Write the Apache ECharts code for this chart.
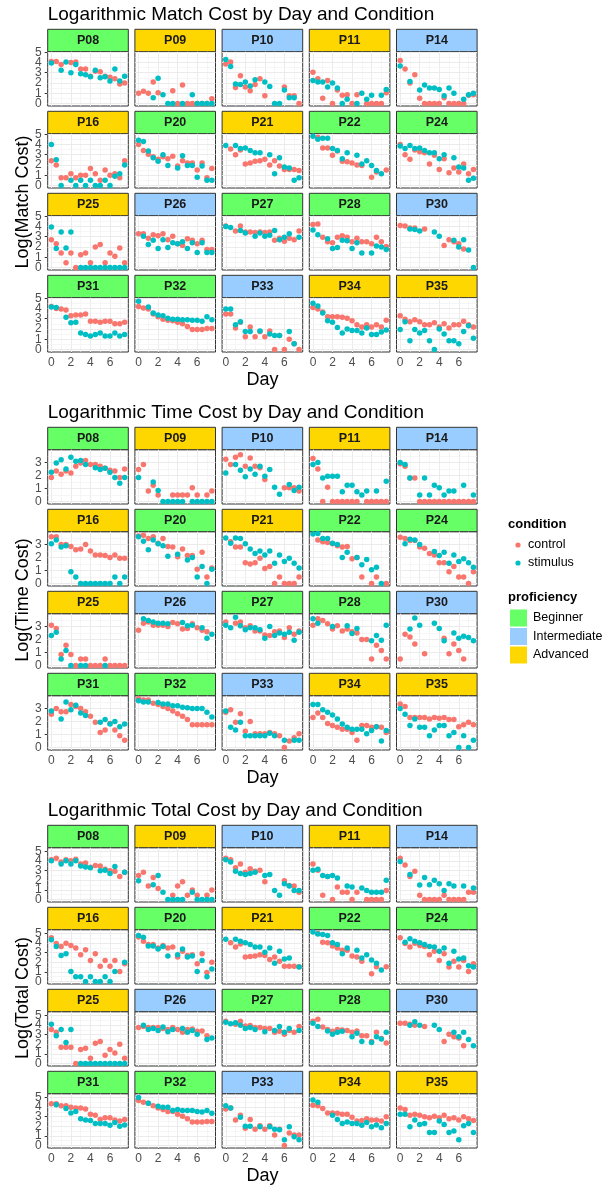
<!DOCTYPE html>
<html><head><meta charset="utf-8">
<script src="https://cdn.jsdelivr.net/npm/echarts@6/dist/echarts.min.js"></script>
<style>html,body{margin:0;padding:0;background:#fff}#c{width:608px;height:1190px}</style>
</head><body><div id="c"></div>
<script>
// ---------- DATA ----------
const days = [0,0.5,1,1.5,2,2.5,3,3.5,4,4.5,5,5.5,6,6.5,7,7.5];
const xTicks = [0,2,4,6];
const matchTicks = [0,1,2,3,4,5];
const timeTicks = [0,1,2,3];
const totalTicks = [0,1,2,3,4,5];
const participants = ['P08','P09','P10','P11','P14','P16','P20','P21','P22','P24','P25','P26','P27','P28','P30','P31','P32','P33','P34','P35'];
const proficiency = ['Beginner','Advanced','Intermediate','Advanced','Intermediate','Advanced','Beginner','Advanced','Beginner','Beginner','Advanced','Intermediate','Beginner','Beginner','Intermediate','Beginner','Beginner','Intermediate','Advanced','Advanced'];
const conditions = ['control','stimulus'];
const proficiencyLevels = ['Beginner','Intermediate','Advanced'];

const matchControl = [
[4.1,4.1,3.8,null,4.0,4.05,3.35,3.35,2.65,3.15,3.1,2.65,2.55,2.4,1.9,2.0],
[1.0,1.2,1.0,2.1,1.05,null,null,1.25,0,1.8,0,0,0,0,0,0.45],
[3.85,4.05,1.55,2.7,1.6,1.25,1.85,2.4,0.75,null,null,null,1.6,0.75,0.75,0],
[3.05,2.4,0.5,2.25,0,1.3,0.8,0.85,0,0.85,null,0,0,0,0,1.05],
[4.2,3.35,2.0,2.8,0.5,0,0,0,0,0.55,0,0,0,0,0.8,0.85],
[2.4,2.0,0.75,0.75,1.15,0.75,1.0,1.0,1.65,1.15,0.5,1.5,1.0,1.15,0.75,2.4],
[4.0,3.4,3.05,2.8,2.55,2.8,2.6,2.85,1.9,2.4,2.2,2.2,1.5,2.2,0.75,1.65],
[null,3.55,3.0,3.45,2.1,2.2,2.35,2.4,2.55,2.0,2.4,1.9,1.55,1.55,1.55,1.45],
[null,4.7,3.65,3.65,2.95,3.35,2.35,2.3,2.2,2.0,1.95,null,0.8,1.3,null,1.5],
[4.0,3.0,2.55,3.45,3.3,3.2,2.1,2.95,1.55,2.6,1.25,1.7,1.3,2.1,1.15,1.55],
[2.7,2.3,1.4,0.45,1.4,0,1.25,1.4,0.45,2.0,2.25,0.45,1.4,1.1,1.9,0.45],
[3.3,3.3,2.85,3.2,3.1,3.3,2.7,3.05,2.3,2.15,2.8,2.65,2.3,2.65,1.75,1.75],
[4.05,null,3.55,4.05,3.45,3.45,3.4,3.45,3.4,3.45,2.65,2.85,2.55,2.85,2.7,3.55],
[4.2,4.25,2.95,2.5,2.4,2.95,3.1,2.95,2.5,2.85,2.5,2.5,2.3,2.95,2.5,2.05],
[4.1,4.05,3.85,3.85,null,3.75,null,null,null,2.15,2.7,2.5,2.3,1.8,null,null],
[4.2,4.0,3.95,3.85,3.3,3.35,3.35,3.45,2.75,2.75,2.65,2.75,2.75,2.5,2.5,2.65],
[4.2,4.05,3.95,3.45,3.2,2.95,2.85,2.8,2.65,2.5,2.25,1.95,1.95,1.95,2.05,2.05],
[3.45,3.45,2.1,2.65,1.25,2.2,1.25,1.75,1.25,1.8,0,1.35,0,1.0,0.55,0],
[4.1,3.95,3.65,3.2,3.2,3.2,3.15,3.05,2.8,2.4,2.2,2.4,2.2,2.4,2.2,2.85],
[3.3,2.95,2.7,2.9,2.7,2.4,2.4,2.6,2.2,2.5,2.1,2.4,2.4,2.75,2.4,2.2]
];
const matchStimulus = [
[3.95,null,3.25,4.05,3.0,3.8,2.9,2.8,2.6,3.25,2.5,2.6,2.2,3.35,2.2,2.65],
[null,null,null,0.55,2.45,0.85,0,0,null,0,null,0.85,0,0,0,0],
[4.3,3.6,1.9,1.85,2.1,1.7,2.3,null,2.1,1.65,0,0,1.3,0.55,0.55,null],
[2.25,2.1,2.1,1.6,2.0,1.5,0,0.4,null,0,1.0,0.4,0.8,null,0.8,1.35],
[3.65,null,2.15,null,1.3,1.8,1.5,1.5,1.35,0.75,1.5,1.0,null,0.4,0.85,1.0],
[4.0,2.5,0,null,0.5,0,0.5,0,0.5,0,0,0.5,0,0.9,1.15,2.0],
[4.4,4.3,3.35,2.7,2.35,3.0,1.95,null,1.7,2.9,1.95,1.95,0.8,1.9,0.5,0.5],
[3.9,null,3.9,3.6,3.65,3.4,3.2,3.2,null,3.0,1.15,2.7,1.8,1.7,0.5,0.75],
[4.8,4.5,4.6,4.6,3.6,3.4,2.6,3.2,null,2.95,2.1,2.4,1.95,1.45,1.15,null],
[3.85,3.6,3.9,3.6,3.65,3.4,3.2,3.2,2.6,3.0,null,2.7,1.8,1.7,0.5,0.7],
[3.95,1.85,3.45,1.9,3.45,null,0,0,0,0,0,0,0,0,0,0],
[null,3.05,2.25,2.65,1.85,2.7,1.95,2.4,2.3,2.5,1.85,2.4,1.45,2.4,1.45,1.45],
[4.0,3.9,null,3.6,3.35,null,3.05,3.35,3.05,3.15,3.6,2.7,2.95,3.3,null,2.95],
[3.65,3.2,null,2.8,1.85,1.95,2.65,2.6,1.85,2.4,1.4,null,1.4,2.1,2.0,1.75],
[null,null,3.75,3.7,3.55,null,null,3.45,3.05,null,null,2.65,2.0,2.7,1.7,0],
[4.15,4.1,null,3.15,2.6,2.65,1.6,1.45,1.3,1.45,1.6,1.3,1.3,1.6,1.3,1.45],
[4.7,null,4.15,3.55,3.35,3.3,3.05,2.95,2.95,2.9,2.9,2.85,2.85,2.75,3.2,2.9],
[3.95,3.95,2.4,2.7,1.75,1.75,null,1.8,null,1.5,1.35,1.35,null,1.75,0.55,null],
[4.5,4.25,3.55,2.8,2.65,2.15,1.6,2.0,1.85,1.85,1.6,2.1,1.45,1.45,1.7,1.9],
[1.95,2.7,0.85,1.95,1.6,1.85,0.85,0,2.0,1.5,0.85,0.85,0.55,1.75,2.3,1.1]
];
const timeControl = [
[1.85,2.35,2.1,2.35,2.2,2.7,2.95,3.15,2.85,2.85,2.7,2.55,2.4,2.35,1.85,2.5],
[2.45,2.85,0.8,1.25,0.5,null,null,0.5,0.5,0.5,0.5,1.05,0.5,null,0.5,0.8],
[3.25,2.85,3.4,3.6,2.7,3.35,2.7,2.6,1.7,null,null,null,1.05,1.05,1.05,0.8],
[3.3,2.5,0,1.1,0,0,0,0,0,0,null,0,0,0,0,0],
[2.9,2.7,1.8,1.8,0,0,0,0,0,0,0,0,0,0,0,0],
[3.6,3.6,3.0,3.0,2.85,2.6,2.65,3.0,2.5,2.2,2.2,2.15,2.0,2.2,1.95,1.95],
[3.65,3.7,3.45,3.6,3.1,3.45,2.85,2.8,2.05,2.65,2.15,2.15,1.1,2.4,0.5,1.2],
[null,3.2,2.8,2.8,1.6,1.5,1.6,1.95,1.15,1.3,0,0.5,0,0,0,0.5],
[null,3.35,3.2,3.15,3.05,2.9,2.8,2.85,1.9,2.0,0.5,null,0,0.5,null,0],
[3.55,3.45,3.3,3.3,2.8,2.7,2.3,2.2,1.6,1.6,0.9,1.3,0.5,0.5,0,0.9],
[3.1,2.85,0.85,1.55,0.85,0,0.5,0.5,0,0,0,0.5,0,0,0,0],
[2.7,3.25,3.35,3.1,3.1,3.1,3.0,3.3,3.2,2.8,2.85,3.2,2.9,2.7,2.6,null],
[3.35,null,3.25,3.35,2.9,3.05,2.65,2.65,2.35,2.3,2.6,2.65,2.15,2.9,2.4,2.65],
[3.1,3.6,3.45,3.2,2.8,3.05,2.65,2.8,2.6,2.5,2.0,2.0,0.5,1.55,1.15,0.5],
[0.5,2.4,2.2,1.65,null,0.9,null,null,null,2.1,0.9,1.65,1.15,0.5,null,null],
[2.55,3.0,2.75,2.75,3.3,3.15,3.0,2.75,2.4,1.95,1.15,1.35,1.85,1.35,0.9,0.55],
[3.75,3.65,3.65,3.4,3.3,3.15,3.0,2.8,2.6,2.4,2.15,1.75,1.75,1.75,1.75,1.75],
[2.7,2.9,1.95,2.6,1.25,2.0,1.05,1.05,1.05,1.15,1.05,0.9,0,0.5,0.75,1.05],
[2.3,2.65,2.3,1.85,1.7,1.55,1.4,1.4,1.15,0.55,1.7,1.7,1.55,1.6,1.55,1.15],
[3.35,3.15,2.3,2.3,2.3,2.3,2.2,2.3,2.25,2.3,2.15,2.15,1.6,1.75,1.95,1.75]
];
const timeStimulus = [
[2.25,2.95,3.2,2.5,3.4,3.1,3.15,2.85,null,2.6,2.45,2.55,2.25,1.85,1.4,1.85],
[1.85,null,null,1.5,0.85,0,0,0,0,0,null,0,0,0,0,0],
[2.2,null,2.85,2.4,1.9,2.5,2.1,2.7,1.95,2.45,1.1,0.55,null,1.3,0.85,1.1],
[2.85,3.0,1.8,1.95,1.95,1.95,0.75,1.25,1.25,0.75,0.5,0.8,null,0.8,null,1.55],
[3.0,2.85,1.8,null,0.5,1.8,0.5,1.25,1.05,0.5,0.8,0.8,null,1.25,null,0.5],
[3.05,3.35,2.8,2.9,0.9,0.5,0,0,0,0,0,0,0,0.5,0,0.5],
[3.6,3.25,2.6,3.35,3.05,2.9,2.1,null,2.25,null,1.8,2.0,0.5,1.3,0,1.1],
[3.5,3.1,3.5,3.45,3.05,2.65,2.3,2.5,2.2,2.5,1.55,2.2,1.7,1.95,1.55,1.2],
[3.8,3.85,3.45,3.45,3.1,3.0,2.0,2.4,null,2.0,1.45,1.85,1.05,1.25,0,null],
[null,3.05,3.4,3.35,3.0,null,null,2.45,2.15,2.4,1.55,2.2,1.7,1.9,1.6,1.25],
[2.3,2.55,0.5,1.15,0,null,0,0,null,null,null,0,null,null,null,null],
[null,3.6,3.45,3.35,3.25,3.25,3.2,null,null,3.3,3.05,3.1,null,2.9,2.1,2.4],
[3.1,2.9,3.7,3.05,2.75,2.9,2.9,2.75,2.1,3.0,2.3,2.5,2.4,2.55,1.95,2.55],
[3.6,3.25,null,null,3.0,null,null,3.05,2.45,2.85,null,null,1.9,2.3,1.95,3.1],
[null,null,2.8,3.65,3.1,null,null,3.25,2.85,1.9,null,2.5,2.1,2.25,2.15,1.9],
[2.8,null,2.2,3.5,2.9,3.25,2.65,2.45,null,null,1.95,2.15,1.8,2.0,1.6,1.8],
[3.6,3.5,3.5,null,3.45,3.35,3.35,3.2,3.2,3.1,3.05,3.0,3.0,3.0,2.7,2.35],
[2.8,1.55,1.35,1.95,0.9,0.9,0.9,0.9,0.9,1.1,0.9,null,0.55,null,0.55,0.55],
[3.3,3.3,2.9,2.7,2.5,2.2,1.8,1.55,1.4,1.4,1.4,1.05,1.3,1.6,0.5,1.3],
[3.0,2.55,1.7,2.2,1.55,1.55,0.9,1.35,1.7,1.7,0.9,1.15,0,0.9,0,0.55]
];
const totalControl = [
[4.15,4.3,3.9,4.15,4.05,4.2,3.7,3.8,3.35,3.55,3.5,3.15,3.0,2.95,2.4,2.85],
[2.5,2.85,1.4,2.3,1.15,null,null,0.45,1.4,1.85,0.45,1.0,0.45,null,0.45,1.0],
[4.3,4.15,3.3,3.7,2.85,3.2,2.95,3.05,1.85,null,null,null,1.95,1.45,1.4,0.75],
[3.7,3.05,0.45,2.4,0,1.3,0.75,0.75,0,0.75,null,0,0,0,0,0.95],
[4.3,3.6,2.4,2.95,0.45,0,0,0,0,0.45,0,0,0,0,0.75,0.75],
[4.55,3.95,3.65,4.0,3.75,3.5,2.8,3.3,2.2,2.9,1.6,2.2,1.6,2.2,1.05,1.85],
[4.65,4.2,3.85,3.85,3.5,3.75,3.5,3.6,2.55,3.15,2.7,2.8,1.85,2.9,0.95,2.0],
[null,4.05,3.6,3.9,2.55,2.6,2.65,2.8,2.7,2.3,2.55,2.1,1.6,1.6,1.6,1.55],
[null,5.0,4.1,4.05,3.7,3.5,3.25,3.25,2.65,2.55,2.1,null,0.8,1.55,null,1.55],
[4.55,3.95,3.6,4.0,3.75,3.65,2.8,3.15,2.2,2.9,1.5,2.1,1.5,2.2,1.05,1.85],
[3.55,3.25,1.7,1.7,1.7,0,1.45,1.6,0.55,2.1,2.3,0.85,1.45,1.1,2.0,0.55],
[3.75,3.85,3.75,3.75,3.75,3.65,3.55,3.75,3.55,3.25,3.55,3.6,3.35,3.4,2.9,null],
[4.4,null,4.1,4.4,3.9,3.95,3.75,3.75,3.65,3.65,3.25,3.35,3.05,3.45,3.25,3.85],
[4.4,4.6,3.8,3.55,3.35,3.55,3.5,3.45,3.25,3.4,2.9,2.9,2.3,3.25,2.6,2.15],
[4.2,4.2,4.1,4.0,null,3.85,null,null,null,2.3,3.05,2.8,2.65,1.85,null,null],
[4.35,4.35,4.15,4.15,4.0,3.9,3.9,3.8,3.25,3.15,2.7,2.9,2.9,2.65,2.55,2.7],
[4.7,4.5,4.4,4.15,3.9,3.75,3.55,3.55,3.25,3.05,2.8,2.45,2.45,2.45,2.5,2.5],
[3.8,3.9,2.65,3.15,1.8,2.7,1.7,2.05,1.7,2.05,1.1,1.7,0,1.3,1.1,1.1],
[4.2,4.15,3.85,3.4,3.4,3.35,3.25,3.25,2.95,2.55,2.6,2.8,2.65,2.65,2.55,3.0],
[3.9,3.75,3.15,3.25,3.15,3.0,2.9,3.05,2.9,3.15,2.8,2.9,2.65,3.0,2.8,2.6]
];
const totalStimulus = [
[4.05,null,3.7,4.05,3.7,4.05,3.5,3.4,3.3,null,3.0,3.05,2.7,3.45,null,2.85],
[1.95,null,null,1.55,2.5,0.75,0,0,0,0,null,0.75,0,0,0,0],
[4.15,3.9,2.95,2.7,2.6,2.7,2.85,null,2.5,2.6,0.95,0.45,1.65,1.4,0.95,0.95],
[3.05,3.15,2.5,2.4,2.5,2.25,null,1.4,1.3,null,1.2,0.95,0.75,0.75,0.75,2.0],
[3.95,null,2.6,null,1.5,2.3,1.55,2.0,1.65,0.95,1.65,1.4,null,1.4,null,1.2],
[4.35,3.65,2.7,2.9,1.05,0.5,0.5,0,0.5,0,0,0.5,0,1.05,null,2.0],
[4.8,4.6,3.7,3.7,3.4,3.65,2.65,null,2.8,3.4,2.55,2.65,1.05,2.2,0.5,1.3],
[4.4,null,4.4,4.2,4.05,3.85,3.6,3.6,3.05,3.5,1.9,3.15,2.35,2.45,null,1.5],
[5.15,4.95,4.9,4.8,4.05,3.85,2.9,3.5,null,3.25,2.45,2.8,2.25,1.9,1.2,null],
[null,4.1,4.45,4.2,4.05,3.85,3.65,3.6,3.15,3.5,1.9,3.15,2.35,2.45,1.65,1.5],
[4.1,2.9,3.55,2.2,3.55,null,0,0,0,0,0,0,0,0,0,0],
[null,4.0,3.55,3.65,3.45,3.8,3.3,3.55,null,3.65,3.25,3.45,3.05,null,2.5,2.65],
[4.3,4.15,4.25,4.0,3.65,3.75,3.55,null,3.3,null,3.45,3.85,3.25,3.65,null,3.45],
[4.2,3.85,null,3.4,3.05,3.25,3.35,null,2.8,3.15,2.3,null,2.2,2.8,2.55,3.25],
[null,null,4.0,4.35,4.0,null,null,4.0,3.55,null,null,3.25,2.8,3.25,2.5,1.85],
[null,4.25,null,3.85,3.4,3.55,2.8,2.65,2.6,2.3,2.3,2.3,2.1,2.4,2.0,2.15],
[5.0,null,4.4,null,4.1,4.0,4.0,3.65,3.75,3.65,3.65,3.65,3.55,3.5,3.65,3.35],
[4.15,3.9,null,2.95,2.0,2.0,null,1.95,null,1.95,1.7,1.65,0.6,1.95,0.9,0.6],
[4.75,4.5,null,null,3.15,2.7,2.3,2.45,2.3,2.3,2.1,2.4,1.95,2.15,1.85,2.3],
[3.25,3.25,1.95,2.65,2.2,2.3,1.35,1.35,2.55,2.2,1.35,1.5,0.6,2.05,2.3,1.35]
];

// ---------- STYLE / LAYOUT ----------
const FONT = '"Liberation Sans", Arial, sans-serif';
const condColors = {control:'#F8766D', stimulus:'#00BFC4'};
const profColors = {Beginner:'#66FF66', Intermediate:'#99CCFF', Advanced:'#FFD700'};
const L = {colLeft:47.7, colPitch:87.2, panelW:80.6, stripTop0:29.3, plotPitch:398, rowPitch:82,
           stripH:22.4, panelH:54.3, titleTop:5, yNameX:23, yNameY:202};
const plots = [
  {title:'Logarithmic Match Cost by Day and Condition', yName:'Log(Match Cost)', ctrl:matchControl, stim:matchStimulus, yMin:-0.25, yMax:5.05, yTicks:matchTicks},
  {title:'Logarithmic Time Cost by Day and Condition', yName:'Log(Time Cost)', ctrl:timeControl, stim:timeStimulus, yMin:-0.19, yMax:3.98, yTicks:timeTicks},
  {title:'Logarithmic Total Cost by Day and Condition', yName:'Log(Total Cost)', ctrl:totalControl, stim:totalStimulus, yMin:-0.26, yMax:5.4, yTicks:totalTicks}
];
const majorLine = {color:'#ebebeb', width:1, type:'solid'};
const minorLine = {color:'#f0f0f0', width:0.6, type:'solid'};

function minorsOf(t, lo, hi){
  const out=[]; for(let i=0;i<t.length-1;i++){out.push((t[i]+t[i+1])/2);}
  const step = t[1]-t[0]; const extra = t[t.length-1]+step/2; if(extra<hi) out.push(extra);
  return out.filter(v=>v>lo && v<hi);
}
const xMinor = minorsOf(xTicks, -0.375, 7.875);

const option = {animation:false, textStyle:{fontFamily:FONT}, title:[], grid:[], xAxis:[], yAxis:[], series:[], graphic:[]};

function yAxisDef(gi, pl, show, values){
  return {gridIndex:gi, type:'value', min:pl.yMin, max:pl.yMax, position:'left', offset:0,
    axisLine:{show:false}, splitLine:{show:false},
    axisTick:{show:show, customValues:values, length:3, lineStyle:{color:'#333333'}},
    axisLabel:{show:show, customValues:values, showMinLabel:true, showMaxLabel:true, hideOverlap:false,
      color:'#4d4d4d', fontSize:12, margin:6, fontFamily:FONT}};
}

plots.forEach((pl,p)=>{
  option.title.push({text:pl.title, left:L.colLeft, top:L.titleTop + p*L.plotPitch, padding:0,
    textStyle:{fontSize:19, fontWeight:'normal', color:'#000', fontFamily:FONT}});
  option.graphic.push({type:'text', x:L.yNameX, y:L.yNameY + p*L.plotPitch, rotation:Math.PI/2, silent:true,
    style:{text:pl.yName, fontSize:18, fontFamily:FONT, fill:'#000', align:'center', verticalAlign:'middle'}});
  const yMinor = minorsOf(pl.yTicks, pl.yMin, pl.yMax);
  const evenTicks = pl.yTicks.filter((v,i)=>i%2===0);
  const oddTicks = pl.yTicks.filter((v,i)=>i%2===1);
  const lines = [];
  xTicks.forEach(v=>lines.push({xAxis:v, lineStyle:majorLine}));
  xMinor.forEach(v=>lines.push({xAxis:v, lineStyle:minorLine}));
  pl.yTicks.forEach(v=>lines.push({yAxis:v, lineStyle:majorLine}));
  yMinor.forEach(v=>lines.push({yAxis:v, lineStyle:minorLine}));

  participants.forEach((pid,k)=>{
    const r = Math.floor(k/5), c = k%5, gi = option.grid.length;
    const left = L.colLeft + c*L.colPitch;
    const stripTop = L.stripTop0 + p*L.plotPitch + r*L.rowPitch;
    const top = stripTop + L.stripH;
    option.grid.push({left:left, top:top, width:L.panelW, height:L.panelH, show:true,
      backgroundColor:'#fff', borderColor:'#333333', borderWidth:1});
    const bottomRow = r===3, leftCol = c===0;
    const xi = option.xAxis.length;
    option.xAxis.push({gridIndex:gi, type:'value', min:-0.375, max:7.875,
      axisLine:{show:false}, splitLine:{show:false},
      axisTick:{show:bottomRow, customValues:xTicks, length:3, lineStyle:{color:'#333333'}},
      axisLabel:{show:bottomRow, customValues:xTicks, showMinLabel:true, showMaxLabel:true, color:'#4d4d4d', fontSize:12, margin:5, fontFamily:FONT},
      name:(bottomRow && c===2)?'Day':'', nameLocation:'middle', nameGap:19,
      nameTextStyle:{fontSize:18, color:'#000', fontFamily:FONT, verticalAlign:'top'}});
    const yi = option.yAxis.length;
    // two overlaid left axes so that the closely spaced tick labels are all kept
    option.yAxis.push(yAxisDef(gi, pl, leftCol, evenTicks));
    if (leftCol) option.yAxis.push(yAxisDef(gi, pl, true, oddTicks));
    option.series.push({type:'scatter', name:'control', xAxisIndex:xi, yAxisIndex:yi, silent:true,
      symbolSize:5.5, itemStyle:{color:condColors.control, opacity:1},
      data: days.map((d,i)=>[d, pl.ctrl[k][i]]).filter(v=>v[1]!==null),
      markLine:{silent:true, symbol:['none','none'], z:1, animation:false, label:{show:false},
        emphasis:{disabled:true}, data:lines}});
    option.series.push({type:'scatter', name:'stimulus', xAxisIndex:xi, yAxisIndex:yi, silent:true,
      symbolSize:5.5, itemStyle:{color:condColors.stimulus, opacity:1},
      data: days.map((d,i)=>[d, pl.stim[k][i]]).filter(v=>v[1]!==null)});
    option.graphic.push({type:'rect', silent:true, shape:{x:left, y:stripTop, width:L.panelW, height:L.stripH},
      style:{fill:profColors[proficiency[k]], stroke:'#333333', lineWidth:1}});
    option.graphic.push({type:'text', silent:true, x:left+L.panelW/2, y:stripTop+L.stripH/2+0.5,
      style:{text:pid, fontSize:12.5, fontWeight:'bold', fontFamily:FONT, fill:'#1a1a1a', align:'center', verticalAlign:'middle'}});
  });
});

// legend (drawn next to the middle chart)
const LG = {x:508, condTitleY:524, condY0:545, condStep:18, dotX:518, textX:528,
            profTitleY:597, boxX:510, boxY0:609.5, boxStep:18.5, box:17, profTextX:533};
option.graphic.push({type:'text', silent:true, x:LG.x, y:LG.condTitleY,
  style:{text:'condition', fontSize:13, fontWeight:'bold', fontFamily:FONT, fill:'#000', verticalAlign:'middle'}});
conditions.forEach((cn,i)=>{
  const y = LG.condY0 + i*LG.condStep;
  option.graphic.push({type:'circle', silent:true, shape:{cx:LG.dotX, cy:y, r:2.6}, style:{fill:condColors[cn]}});
  option.graphic.push({type:'text', silent:true, x:LG.textX, y:y,
    style:{text:cn, fontSize:12.5, fontFamily:FONT, fill:'#000', verticalAlign:'middle'}});
});
option.graphic.push({type:'text', silent:true, x:LG.x, y:LG.profTitleY,
  style:{text:'proficiency', fontSize:13, fontWeight:'bold', fontFamily:FONT, fill:'#000', verticalAlign:'middle'}});
proficiencyLevels.forEach((lv,i)=>{
  const y = LG.boxY0 + i*LG.boxStep;
  option.graphic.push({type:'rect', silent:true, shape:{x:LG.boxX, y:y, width:LG.box, height:LG.box}, style:{fill:profColors[lv]}});
  option.graphic.push({type:'text', silent:true, x:LG.profTextX, y:y+LG.box/2,
    style:{text:lv, fontSize:12.5, fontFamily:FONT, fill:'#000', verticalAlign:'middle'}});
});

const chart = echarts.init(document.getElementById('c'), null, {renderer:'canvas'});
chart.setOption(option);
</script></body></html>
